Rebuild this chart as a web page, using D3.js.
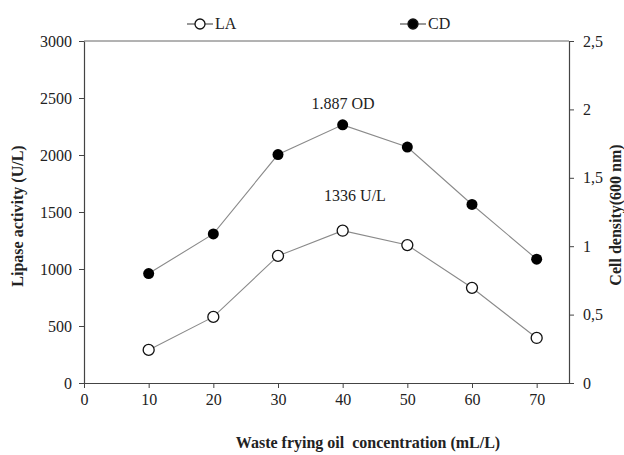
<!DOCTYPE html>
<html>
<head>
<meta charset="utf-8">
<script src="https://cdn.jsdelivr.net/npm/d3@7"></script>
<style>
  body { margin: 0; background: #fff; }
  text { font-family: "Liberation Serif", "Times New Roman", serif; fill: #222; }
</style>
</head>
<body>
<script>
'use strict';

// concentrations (mL/L)
let concentration = [10, 20, 30, 40, 50, 60, 70];
// lipase activity (U/L)
let laValues = [290, 580, 1115, 1336, 1210, 835, 395];
// cell density (OD 600 nm)
let cdValues = [0.80, 1.09, 1.67, 1.887, 1.725, 1.305, 0.905];

let xTicks = [0, 10, 20, 30, 40, 50, 60, 70];
let yLeftTicks = [0, 500, 1000, 1500, 2000, 2500, 3000];
let yRightTicks = [0, 0.5, 1, 1.5, 2, 2.5];

(function() {

  let svg = d3.select('body').append('svg')
    .attr('width', 624)
    .attr('height', 455);

  let pLeft = 84, pRight = 569, pTop = 41, pBottom = 383;

  let xScale = d3.scaleLinear().domain([0, 75]).range([pLeft, pRight]);
  let yLeft = d3.scaleLinear().domain([0, 3000]).range([pBottom, pTop]);
  let yRight = d3.scaleLinear().domain([0, 2.5]).range([pBottom, pTop]);

  // frame top line
  svg.append('line')
    .attr('x1', pLeft).attr('x2', pRight)
    .attr('y1', pTop).attr('y2', pTop)
    .attr('stroke', '#666').attr('stroke-width', 1);

  function styleAxis(g) {
    g.attr('font-family', null);
    g.selectAll('path').attr('stroke', '#444').attr('stroke-width', 1.2);
    g.selectAll('line').attr('stroke', '#444');
    g.selectAll('text')
      .style('font-family', '"Liberation Serif", serif')
      .style('font-size', '16px')
      .attr('fill', '#222');
  }

  svg.append('g')
    .attr('transform', 'translate(0,' + pBottom + ')')
    .call(d3.axisBottom(xScale).tickValues(xTicks).tickSize(5).tickPadding(6).tickSizeOuter(0))
    .call(styleAxis);

  svg.append('g')
    .attr('transform', 'translate(' + pLeft + ',0)')
    .call(d3.axisLeft(yLeft).tickValues(yLeftTicks).tickSize(5).tickPadding(7).tickSizeOuter(0)
      .tickFormat(d3.format('d')))
    .call(styleAxis);

  svg.append('g')
    .attr('transform', 'translate(' + pRight + ',0)')
    .call(d3.axisRight(yRight).tickValues(yRightTicks).tickSize(5).tickPadding(9).tickSizeOuter(0)
      .tickFormat((d) => String(d).replace('.', ',')))
    .call(styleAxis);

  // series lines
  let laLine = d3.line()
    .x((d, i) => xScale(concentration[i]))
    .y((d) => yLeft(d));
  let cdLine = d3.line()
    .x((d, i) => xScale(concentration[i]))
    .y((d) => yRight(d));

  svg.append('path').datum(cdValues)
    .attr('d', cdLine).attr('fill', 'none')
    .attr('stroke', '#8a8a8a').attr('stroke-width', 1.1);
  svg.append('path').datum(laValues)
    .attr('d', laLine).attr('fill', 'none')
    .attr('stroke', '#8a8a8a').attr('stroke-width', 1.1);

  svg.selectAll('.cd').data(cdValues).enter().append('circle')
    .attr('class', 'cd')
    .attr('cx', (d, i) => xScale(concentration[i]))
    .attr('cy', (d) => yRight(d))
    .attr('r', 5.5)
    .attr('fill', '#000');

  svg.selectAll('.la').data(laValues).enter().append('circle')
    .attr('class', 'la')
    .attr('cx', (d, i) => xScale(concentration[i]))
    .attr('cy', (d) => yLeft(d))
    .attr('r', 5.5)
    .attr('fill', '#fff')
    .attr('stroke', '#111')
    .attr('stroke-width', 1.3);

  // annotations
  svg.append('text')
    .attr('x', 343).attr('y', 109)
    .attr('text-anchor', 'middle')
    .style('font-size', '16px')
    .text('1.887 OD');
  svg.append('text')
    .attr('x', 355).attr('y', 201)
    .attr('text-anchor', 'middle')
    .style('font-size', '16px')
    .text('1336 U/L');

  // legend
  function legendItem(cx, filled, label) {
    svg.append('line')
      .attr('x1', cx - 13).attr('x2', cx + 13)
      .attr('y1', 24).attr('y2', 24)
      .attr('stroke', '#555').attr('stroke-width', 1.2);
    svg.append('circle')
      .attr('cx', cx).attr('cy', 24).attr('r', 5)
      .attr('fill', filled ? '#000' : '#fff')
      .attr('stroke', '#111').attr('stroke-width', 1.3);
    svg.append('text')
      .attr('x', cx + 15).attr('y', 29)
      .style('font-size', '16px')
      .text(label);
  }
  legendItem(200, false, 'LA');
  legendItem(413, true, 'CD');

  // axis titles
  svg.append('text')
    .attr('transform', 'translate(23,216)rotate(-90)')
    .attr('text-anchor', 'middle')
    .style('font-size', '16px')
    .style('font-weight', 'bold')
    .text('Lipase activity (U/L)');

  svg.append('text')
    .attr('transform', 'translate(621,215)rotate(-90)')
    .attr('text-anchor', 'middle')
    .style('font-size', '16px')
    .style('font-weight', 'bold')
    .text('Cell density(600 nm)');

  svg.append('text')
    .attr('x', 368).attr('y', 448)
    .attr('text-anchor', 'middle')
    .style('font-size', '16px')
    .style('font-weight', 'bold')
    .style('white-space', 'pre')
    .text('Waste frying oil  concentration (mL/L)');

})();
</script>
</body>
</html>
